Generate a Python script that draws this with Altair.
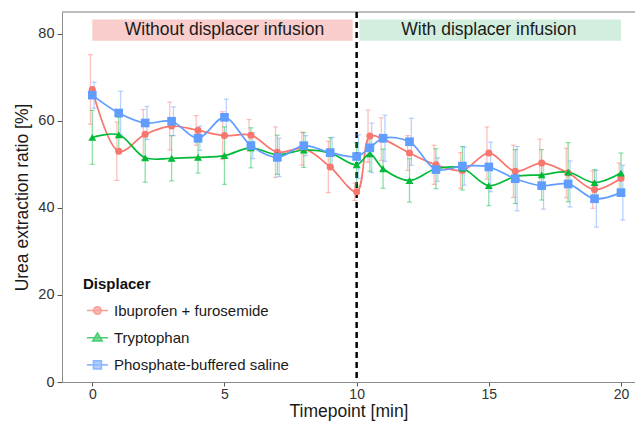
import altair as alt
import pandas as pd

# ---- data ----
timepoints = [0, 1, 2, 3, 4, 5, 6, 7, 8, 9, 10, 10.5, 11, 12, 13, 14, 15, 16, 17, 18, 19, 20]

ibu_mean = [67.2, 53.0, 56.9, 58.8, 57.8, 56.6, 56.7, 52.8, 53.6, 49.4, 43.7,
            56.5, 55.8, 52.6, 49.9, 48.6, 52.6, 48.4, 50.3, 48.0, 44.2, 46.8]
ibu_err = [8.0, 6.7, 5.7, 5.5, 3.4, 5.5, 3.6, 5.8, 3.8, 5.9, 2.0,
           6.0, 4.9, 4.0, 4.5, 4.1, 6.0, 6.0, 5.5, 5.7, 4.3, 3.5]

trp_mean = [56.2, 56.8, 51.5, 51.4, 51.6, 52.0, 53.8, 52.2, 53.3, 52.6, 49.9,
            52.4, 49.0, 46.3, 49.0, 49.1, 45.1, 47.2, 47.6, 48.2, 45.8, 48.0]
trp_err = [6.2, 4.0, 5.6, 5.2, 3.6, 6.6, 4.6, 4.5, 4.0, 3.5, 5.0,
           4.0, 4.5, 5.0, 4.6, 5.0, 4.6, 6.2, 5.8, 6.8, 3.0, 4.6]

pbs_mean = [65.9, 61.8, 59.5, 59.9, 56.0, 60.8, 54.3, 51.6, 54.3, 52.7, 51.8,
            53.8, 56.0, 55.2, 48.8, 49.6, 49.4, 46.7, 45.1, 45.5, 42.1, 43.5]
pbs_err = [3.0, 5.0, 3.8, 3.3, 2.8, 4.2, 3.0, 4.4, 2.3, 3.5, 5.0,
           5.7, 5.3, 5.4, 2.7, 4.4, 5.7, 7.4, 5.4, 5.3, 6.5, 6.3]

series_names = ["Ibuprofen + furosemide", "Tryptophan", "Phosphate-buffered saline"]
series_colors = ["#F8766D", "#00BA38", "#619CFF"]
series_shapes = ["circle", "triangle-up", "square"]
series_sizes = [50, 75, 80]
series_dodge = [-0.07, 0.0, 0.07]
legend_paths = [
    "M-0.72,0H1.28M0.64,0A0.36,0.36,0,1,1,-0.08,0A0.36,0.36,0,1,1,0.64,0Z",
    "M-0.72,0H1.28M0.28,-0.45L0.73,0.3L-0.17,0.3Z",
    "M-0.72,0H1.28M-0.1,-0.38H0.66V0.38H-0.1Z",
]

band_labels = ["Without displacer infusion", "With displacer infusion"]
band_start = [0, 10.1]
band_end = [9.85, 20]
band_mid = [5, 15]
band_low = [78.4, 78.4]
band_high = [83.3, 83.3]
band_colors = ["#F9CDCB", "#D2EEDE"]

x_ticks = [0, 5, 10, 15, 20]
y_ticks = [0, 20, 40, 60, 80]
x_domain = [-1.146, 20.53]
y_domain = [0, 85]

W, H = 573, 370

# ---- tables ----
rows = []
for name, means, errs, dodge in zip(series_names, [ibu_mean, trp_mean, pbs_mean],
                                    [ibu_err, trp_err, pbs_err], series_dodge):
    for t, m, e in zip(timepoints, means, errs):
        rows.append({"Timepoint": t, "Displacer": name, "value": m,
                     "lo": m - e, "hi": m + e, "tx": t + dodge})
df = pd.DataFrame(rows)

bands = pd.DataFrame({"label": band_labels, "x0": band_start, "x1": band_end,
                      "xm": band_mid, "y0": band_low, "y1": band_high,
                      "col": band_colors})

xs = alt.Scale(domain=x_domain, nice=False, zero=False)
ys = alt.Scale(domain=y_domain, nice=False, zero=False)
col_scale = alt.Scale(domain=series_names, range=series_colors)

x_axis = alt.Axis(values=x_ticks, title="Timepoint [min]", grid=False,
                  labelFontSize=14, titleFontSize=17.5, labelColor="#333333",
                  titleColor="#1a1a1a", domainColor="#8c8c8c", tickColor="#555555",
                  tickSize=4, labelPadding=1, titlePadding=1, titleFontWeight="normal")
y_axis = alt.Axis(values=y_ticks, title="Urea extraction ratio [%]", grid=False,
                  labelFontSize=14.5, titleFontSize=17.5, labelColor="#333333",
                  titleColor="#1a1a1a", domainColor="#8c8c8c", tickColor="#555555",
                  tickSize=5, labelPadding=3, titlePadding=6, titleFontWeight="normal")

base = alt.Chart(df)

rects = alt.Chart(bands).mark_rect().encode(
    x=alt.X("x0:Q", scale=xs, axis=x_axis),
    x2="x1:Q",
    y=alt.Y("y0:Q", scale=ys, axis=y_axis),
    y2="y1:Q",
    color=alt.Color("col:N", scale=None, legend=None),
)

texts = alt.Chart(bands).mark_text(fontSize=17.5, color="#1a1a1a").encode(
    x=alt.X("xm:Q", scale=xs),
    y=alt.Y("yc:Q", scale=ys),
    text="label:N",
).transform_calculate(yc="(datum.y0 + datum.y1) / 2")

top_border = alt.Chart(bands).mark_rule(color="#a6a6a6", strokeWidth=1.2).encode(
    x=alt.value(0), x2=alt.value(W), y=alt.value(0)
)

dashed = alt.Chart(bands).mark_rule(color="black", strokeWidth=2, strokeDash=[6, 4]).encode(
    x=alt.datum(10, scale=xs)
)

err_rules = base.mark_rule(strokeWidth=1.3, opacity=0.45).encode(
    x=alt.X("tx:Q", scale=xs),
    y=alt.Y("lo:Q", scale=ys),
    y2="hi:Q",
    color=alt.Color("Displacer:N", scale=col_scale, legend=None),
)
err_top = base.mark_tick(orient="horizontal", size=5, thickness=1.2, opacity=0.45).encode(
    x=alt.X("tx:Q", scale=xs),
    y=alt.Y("hi:Q", scale=ys),
    color=alt.Color("Displacer:N", scale=col_scale, legend=None),
)
err_bot = base.mark_tick(orient="horizontal", size=5, thickness=1.2, opacity=0.45).encode(
    x=alt.X("tx:Q", scale=xs),
    y=alt.Y("lo:Q", scale=ys),
    color=alt.Color("Displacer:N", scale=col_scale, legend=None),
)

lines = base.mark_line(interpolate="catmull-rom", strokeWidth=1.7).encode(
    x=alt.X("Timepoint:Q", scale=xs),
    y=alt.Y("value:Q", scale=ys),
    color=alt.Color("Displacer:N", scale=col_scale, legend=None),
    detail="Displacer:N",
)

points = base.mark_point(filled=True, opacity=1).encode(
    x=alt.X("Timepoint:Q", scale=xs),
    y=alt.Y("value:Q", scale=ys),
    color=alt.Color("Displacer:N", scale=col_scale, legend=None),
    shape=alt.Shape("Displacer:N", scale=alt.Scale(domain=series_names, range=series_shapes), legend=None),
    size=alt.Size("Displacer:N", scale=alt.Scale(domain=series_names, range=series_sizes), legend=None),
)

leg_props = dict(
    title="Displacer", orient="none", legendX=21, legendY=265,
    titleFontSize=15, titleFontWeight="bold", titleColor="#111111",
    labelFontSize=15, labelColor="#1a1a1a", labelOffset=8, labelLimit=400,
    symbolSize=441, symbolStrokeWidth=1.6, rowPadding=7.2, titlePadding=7,
    padding=0,
)

legend_layer = base.transform_filter("datum.value < -1000").mark_point(filled=False).encode(
    x=alt.X("Timepoint:Q", scale=xs),
    y=alt.Y("value:Q", scale=ys),
    fill=alt.Fill("Displacer:N", scale=col_scale, legend=alt.Legend(**leg_props)),
    stroke=alt.Stroke("Displacer:N", scale=col_scale, legend=alt.Legend(**leg_props)),
    shape=alt.Shape("Displacer:N", scale=alt.Scale(domain=series_names, range=legend_paths),
                    legend=alt.Legend(**leg_props)),
)

chart = alt.layer(
    rects, texts, top_border, dashed, err_rules, err_top, err_bot, lines, points, legend_layer
).resolve_scale(
    color="independent", shape="independent", size="independent",
    fill="independent", stroke="independent"
).properties(
    width=W, height=H,
    autosize=alt.AutoSizeParams(type="none"),
    padding={"left": 54, "top": 4, "right": 0, "bottom": 39},
).configure(
    font="Liberation Sans"
).configure_view(stroke=None)

chart.save("out.html", embed_options={"renderer": "svg", "actions": False})
